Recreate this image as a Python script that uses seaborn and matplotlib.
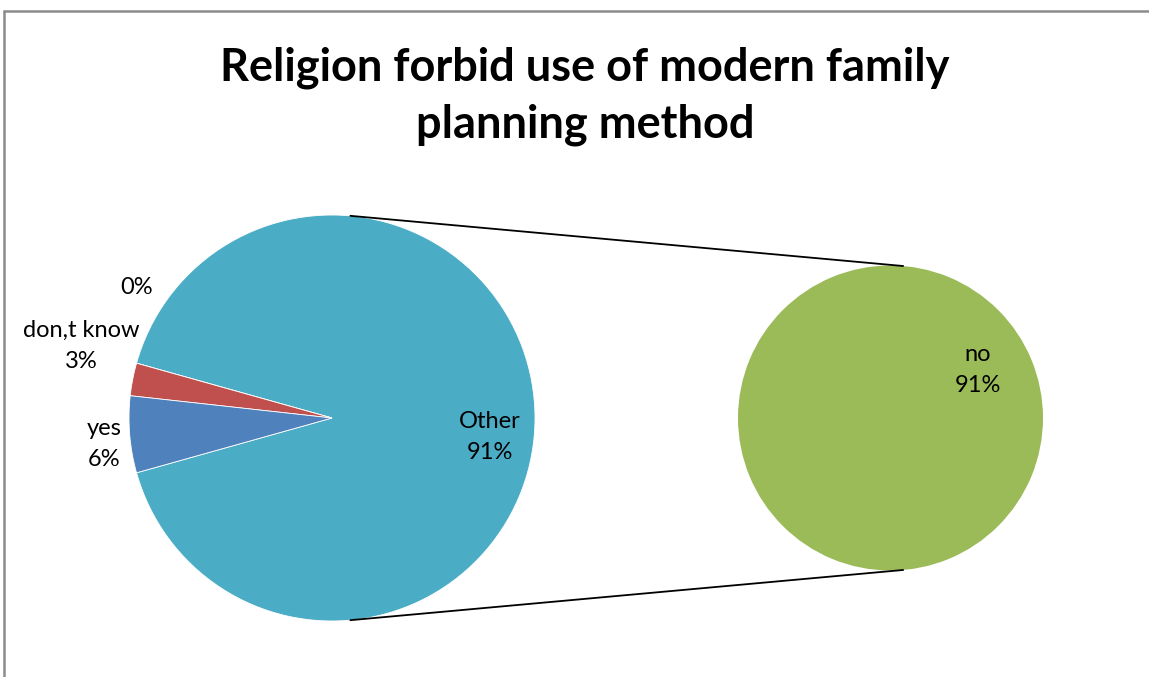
import matplotlib
matplotlib.use("Agg")
import matplotlib.pyplot as plt
from matplotlib.lines import Line2D
import numpy as np
import seaborn as sns

# Survey responses (percent of respondents)
main_labels = ["Other", "", "don,t know", "yes"]
main_values = [91.3, 0.0, 2.6, 6.1]
main_colors = ["#4BACC6", "#8064A2", "#C0504D", "#4F81BD"]

# Breakdown of the "Other" slice
sub_labels = ["no"]
sub_values = [91.3]
sub_colors = ["#9BBB59"]

title = "Religion forbid use of modern family\nplanning method"

sns.set_theme(style="white")
plt.rcParams["font.family"] = ["Lato", "DejaVu Sans"]
plt.rcParams["text.color"] = "black"

W, H = 1149, 677
fig = plt.figure(figsize=(W / 100, H / 100), dpi=100)
ax = fig.add_axes([0, 0, 1, 1])

c1, r1 = (332.0, H - 418.0), 203.0
c2, r2 = (890.5, H - 418.0), 152.5

# primary pie: the "Other" slice is centred facing the secondary pie
start = -main_values[0] * 3.6 / 2
wedges1, _ = ax.pie(main_values, colors=main_colors, startangle=start,
                    center=c1, radius=r1, frame=True,
                    wedgeprops=dict(linewidth=0.6, edgecolor="white"))
wedges2, _ = ax.pie(sub_values, colors=sub_colors, startangle=90,
                    center=c2, radius=r2, frame=True,
                    wedgeprops=dict(linewidth=0))

# connector lines between the two pies
a = np.deg2rad(85.0)
for s in (1, -1):
    ax.plot([c1[0] + r1 * np.cos(a), c2[0] + r2 * np.cos(a)],
            [c1[1] + s * r1 * np.sin(a), c2[1] + s * r2 * np.sin(a)],
            color="black", lw=1.3, solid_capstyle="butt")

def pct(v):
    return f"{int(round(v))}%"

label_kw = dict(ha="center", va="center", fontsize=17, color="black",
                linespacing=1.6)
# data labels
ax.text(137, H - 287, pct(main_values[1]), **label_kw)
ax.text(81, H - 346, f"{main_labels[2]}\n{pct(main_values[2])}", **label_kw)
ax.text(104, H - 444, f"{main_labels[3]}\n{pct(main_values[3])}", **label_kw)
ax.text(490, H - 437, f"{main_labels[0]}\n{pct(main_values[0])}", **label_kw)
ax.text(978, H - 370, f"{sub_labels[0]}\n{pct(sub_values[0])}", **label_kw)

ax.set_xlim(0, W)
ax.set_ylim(0, H)
ax.set_aspect("equal")
ax.axis("off")

fig.text(585 / W, 1 - 96 / H, title, ha="center", va="center",
         fontsize=32.5, fontweight="bold", linespacing=1.42, color="black")

# chart frame
fig.add_artist(Line2D([4 / W, 1], [1 - 11 / H, 1 - 11 / H],
                      color="#8c8c8c", lw=1.8, transform=fig.transFigure))
fig.add_artist(Line2D([4 / W, 4 / W], [0, 1 - 11 / H],
                      color="#8c8c8c", lw=1.8, transform=fig.transFigure))

fig.savefig("out.png", dpi=100, facecolor="white")
